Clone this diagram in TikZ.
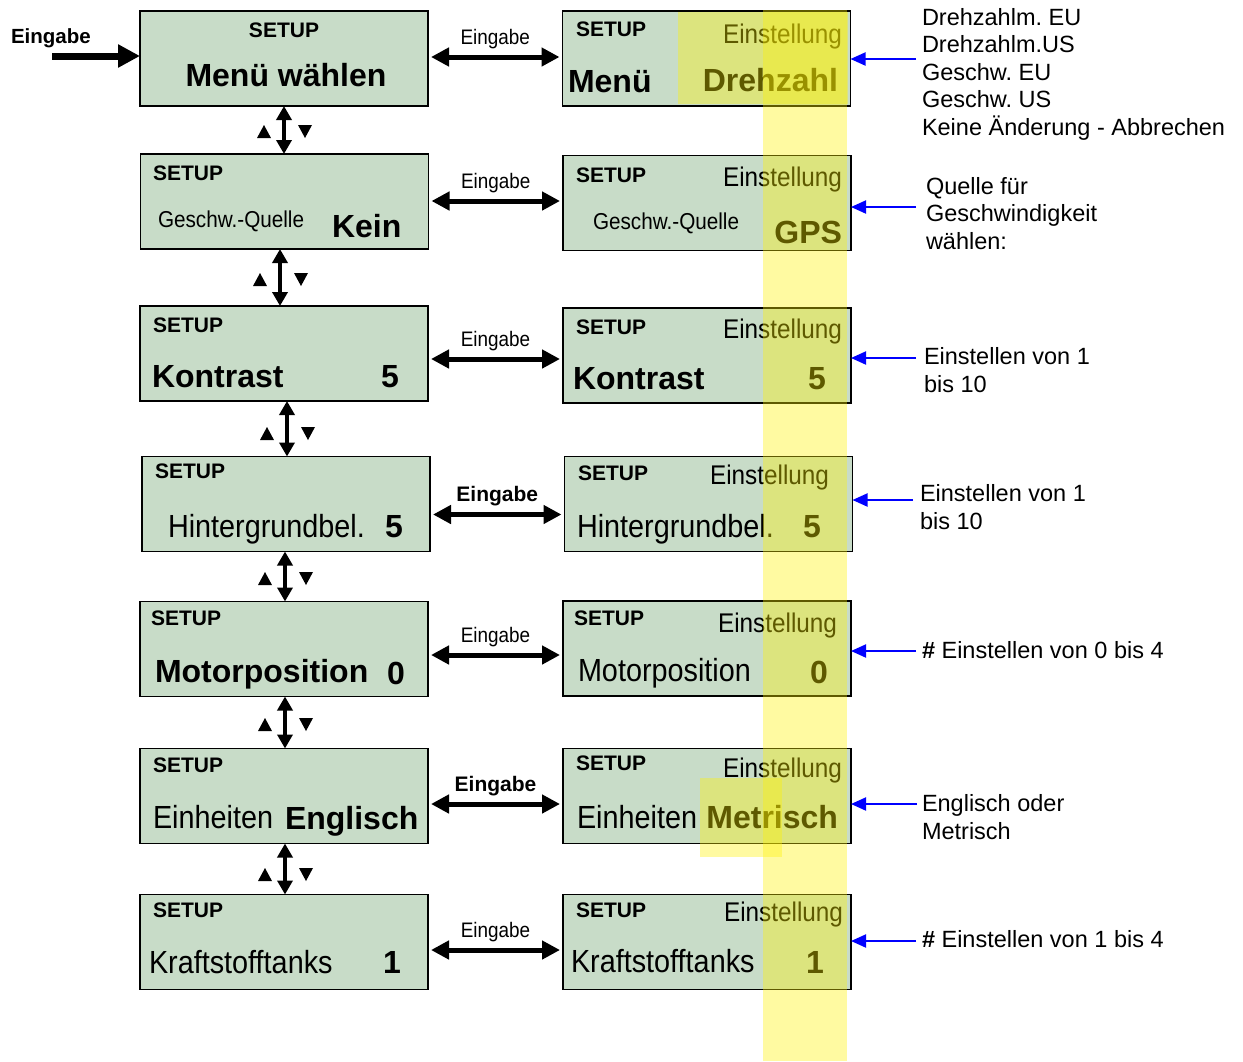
\documentclass[tikz,border=0pt]{standalone}
\usepackage{fontspec}
\setmainfont{Liberation Sans}
\newfontfamily\narrowf[FakeStretch=0.9]{Liberation Sans}
\usetikzlibrary{arrows.meta}
\definecolor{lcd}{RGB}{200,220,200}
\definecolor{annblue}{RGB}{0,0,255}
\frenchspacing
\begin{document}
\begin{tikzpicture}[x=1pt,y=-1pt,
  box/.style={draw=black, line width=1.8pt, fill=lcd, minimum width=288pt, minimum height=95pt, inner sep=0pt, outer sep=0pt},
  txt/.style={inner sep=0pt, outer sep=0pt},
  setup/.style={txt, font=\fontsize{21}{21}\selectfont\bfseries, anchor=base west},
  einst/.style={txt, font=\narrowf\fontsize{27}{27}\selectfont, anchor=base east},
  bigb/.style={txt, font=\fontsize{32}{32}\selectfont\bfseries},
  bign/.style={txt, font=\narrowf\fontsize{32}{32}\selectfont},
  medn/.style={txt, font=\narrowf\fontsize{23}{23}\selectfont, anchor=base west},
  ann/.style={txt, font=\frenchspacing\fontsize{23.5}{27.5}\selectfont, align=left, anchor=base west},
  hdbl/.style={line width=5pt, {Triangle[length=18pt,width=18pt]}-{Triangle[length=18pt,width=18pt]}, shorten <=3pt, shorten >=3pt},
  vdbl/.style={line width=4pt, {Triangle[length=14pt,width=15pt]}-{Triangle[length=14pt,width=15pt]}},
  bluearr/.style={annblue, line width=2pt, -{Triangle[length=15pt,width=13pt]}},
  inarr/.style={line width=7pt, -{Triangle[length=22pt,width=22pt]}},
  lbl/.style={midway, anchor=base, yshift=13pt, inner sep=0pt, font=\narrowf\fontsize{21}{21}\selectfont},
  lblb/.style={midway, anchor=base, yshift=13pt, inner sep=0pt, font=\fontsize{21}{21}\selectfont\bfseries},
  hl/.style={fill=yellow, opacity=0.37},
  tri/.style={fill=black}
]
\useasboundingbox (0,0) rectangle (1243,1061);

% ---------- boxes ----------
\node[box] (L1) at (284,58.5) {};
\node[box] (L2) at (284.5,201.5) {};
\node[box] (L3) at (284,353.5) {};
\node[box] (L4) at (286,504) {};
\node[box] (L5) at (284,649) {};
\node[box] (L6) at (284,796) {};
\node[box] (L7) at (284,942) {};
\node[box] (R1) at (706.5,58.5) {};
\node[box] (R2) at (707,203) {};
\node[box] (R3) at (707,355.5) {};
\node[box] (R4) at (708.5,504) {};
\node[box] (R5) at (707,648.5) {};
\node[box] (R6) at (707,796) {};
\node[box] (R7) at (707,942) {};

% ---------- row 1 ----------
\node[setup, anchor=base] (s1l) at (284,37) {SETUP};
\node[bigb, anchor=base] (m1l) at (286,86) {Menü wählen};
\node[setup] (s1r) at (576,36) {SETUP};
\node[einst] (e1r) at (842,43) {Einstellung};
\node[bigb, anchor=base west] (m1r) at (568,92) {Menü};
\node[bigb, anchor=base east] (v1r) at (838,91) {Drehzahl};

% ---------- row 2 ----------
\node[setup] (s2l) at (153,180) {SETUP};
\node[medn] (m2l) at (158,227) {Geschw.-Quelle};
\node[bigb, anchor=base west] (v2l) at (332,237) {Kein};
\node[setup] (s2r) at (576,182) {SETUP};
\node[einst] (e2r) at (842,186) {Einstellung};
\node[medn] (m2r) at (593,229) {Geschw.-Quelle};
\node[bigb, anchor=base east] (v2r) at (842,243) {GPS};

% ---------- row 3 ----------
\node[setup] (s3l) at (153,332) {SETUP};
\node[bigb, anchor=base west] (m3l) at (152,387) {Kontrast};
\node[bigb, anchor=base] (v3l) at (390,387) {5};
\node[setup] (s3r) at (576,334) {SETUP};
\node[einst] (e3r) at (842,338) {Einstellung};
\node[bigb, anchor=base west] (m3r) at (573,389) {Kontrast};
\node[bigb, anchor=base] (v3r) at (817,389) {5};

% ---------- row 4 ----------
\node[setup] (s4l) at (155,478) {SETUP};
\node[bign, anchor=base west] (m4l) at (168,537) {Hintergrundbel.};
\node[bigb, anchor=base] (v4l) at (394,537) {5};
\node[setup] (s4r) at (578,480) {SETUP};
\node[einst] (e4r) at (829,484) {Einstellung};
\node[bign, anchor=base west] (m4r) at (577,537) {Hintergrundbel.};
\node[bigb, anchor=base] (v4r) at (812,537) {5};

% ---------- row 5 ----------
\node[setup] (s5l) at (151,625) {SETUP};
\node[bigb, anchor=base west] (m5l) at (155,682) {Motorposition};
\node[bigb, anchor=base] (v5l) at (396,684) {0};
\node[setup] (s5r) at (574,625) {SETUP};
\node[einst] (e5r) at (837,632) {Einstellung};
\node[bign, anchor=base west] (m5r) at (578,681) {Motorposition};
\node[bigb, anchor=base] (v5r) at (819,683) {0};

% ---------- row 6 ----------
\node[setup] (s6l) at (153,772) {SETUP};
\node[bign, anchor=base west] (m6l) at (153,828) {Einheiten};
\node[bigb, anchor=base west] (v6l) at (285,829) {Englisch};
\node[setup] (s6r) at (576,770) {SETUP};
\node[einst] (e6r) at (842,777) {Einstellung};
\node[bign, anchor=base west] (m6r) at (577,828) {Einheiten};
\node[bigb, anchor=base east] (v6r) at (838,828) {Metrisch};

% ---------- row 7 ----------
\node[setup] (s7l) at (153,917) {SETUP};
\node[bign, anchor=base west] (m7l) at (149,973) {Kraftstofftanks};
\node[bigb, anchor=base] (v7l) at (392,973) {1};
\node[setup] (s7r) at (576,917) {SETUP};
\node[einst] (e7r) at (843,921) {Einstellung};
\node[bign, anchor=base west] (m7r) at (571,972) {Kraftstofftanks};
\node[bigb, anchor=base] (v7r) at (815,973) {1};

% ---------- input ----------
\node[txt, font=\fontsize{20.5}{20.5}\selectfont\bfseries, anchor=base west] (inlbl) at (11,43) {Eingabe};
\coordinate (inp) at (52,56);
\draw[inarr] (inp) -- (inp -| L1.west);

% ---------- horizontal double arrows ----------
\draw[hdbl] ([yshift=1.5pt]L1.east) -- ([yshift=1.5pt]L1.east -| R1.west) node[lbl] (g1) {Eingabe};
\draw[hdbl] ([yshift=0.5pt]L2.east) -- ([yshift=0.5pt]L2.east -| R2.west) node[lbl] (g2) {Eingabe};
\draw[hdbl] ([yshift=-5.5pt]L3.east) -- ([yshift=-5.5pt]L3.east -| R3.west) node[lbl] (g3) {Eingabe};
\draw[hdbl] ([yshift=-10.5pt]L4.east) -- ([yshift=-10.5pt]L4.east -| R4.west) node[lblb] (g4) {Eingabe};
\draw[hdbl] ([yshift=-6pt]L5.east) -- ([yshift=-6pt]L5.east -| R5.west) node[lbl] (g5) {Eingabe};
\draw[hdbl] ([yshift=-8pt]L6.east) -- ([yshift=-8pt]L6.east -| R6.west) node[lblb] (g6) {Eingabe};
\draw[hdbl] ([yshift=-8pt]L7.east) -- ([yshift=-8pt]L7.east -| R7.west) node[lbl] (g7) {Eingabe};

% ---------- vertical double arrows ----------
\draw[vdbl] (L1.south) -- (L1.south |- L2.north);
\draw[vdbl] ([xshift=-4.5pt]L2.south) -- ([xshift=-4.5pt]L2.south |- L3.north);
\draw[vdbl] ([xshift=3pt]L3.south) -- ([xshift=3pt]L3.south |- L4.north);
\draw[vdbl] ([xshift=-1pt]L4.south) -- ([xshift=-1pt]L4.south |- L5.north);
\draw[vdbl] ([xshift=1pt]L5.south) -- ([xshift=1pt]L5.south |- L6.north);
\draw[vdbl] ([xshift=1pt]L6.south) -- ([xshift=1pt]L6.south |- L7.north);

% up / down triangles
\foreach \x/\y in {284/131, 280/279, 287/433, 285/578, 285/724, 285/874}{
  \fill[tri] (\x-27,\y+7) -- (\x-13,\y+7) -- (\x-20,\y-6) -- cycle;
  \fill[tri] (\x+14,\y-6) -- (\x+28,\y-6) -- (\x+21,\y+7) -- cycle;
}

% ---------- annotations ----------
\node[ann] (a1) at (922,135) {Drehzahlm. EU\\Drehzahlm.US\\Geschw. EU\\Geschw. US\\Keine Änderung - Abbrechen};
\node[ann] (a2) at (926,249) {Quelle für\\Geschwindigkeit\\wählen:};
\node[ann] (a3) at (924,392) {Einstellen von 1\\bis 10};
\node[ann] (a4) at (920,529) {Einstellen von 1\\bis 10};
\node[ann] (a5) at (922,658) {\textbf{\#} Einstellen von 0 bis 4};
\node[ann] (a6) at (922,839) {Englisch oder\\Metrisch};
\node[ann] (a7) at (922,947) {\textbf{\#} Einstellen von 1 bis 4};

\coordinate (b1) at (916,59);
\coordinate (b2) at (916,207);
\coordinate (b3) at (916,358);
\coordinate (b4) at (913,500);
\coordinate (b5) at (916,651);
\coordinate (b6) at (917,804);
\coordinate (b7) at (916,941);
\draw[bluearr] (b1) -- (b1 -| R1.east);
\draw[bluearr] (b2) -- (b2 -| R2.east);
\draw[bluearr] (b3) -- (b3 -| R3.east);
\draw[bluearr] (b4) -- (b4 -| R4.east);
\draw[bluearr] (b5) -- (b5 -| R5.east);
\draw[bluearr] (b6) -- (b6 -| R6.east);
\draw[bluearr] (b7) -- (b7 -| R7.east);

% ---------- yellow highlights ----------
\fill[hl] (763,10) rectangle (847,1061);
\fill[hl] (678,12) rectangle (848,104);
\fill[hl] (700,778) rectangle (782,857);
\end{tikzpicture}
\end{document}
